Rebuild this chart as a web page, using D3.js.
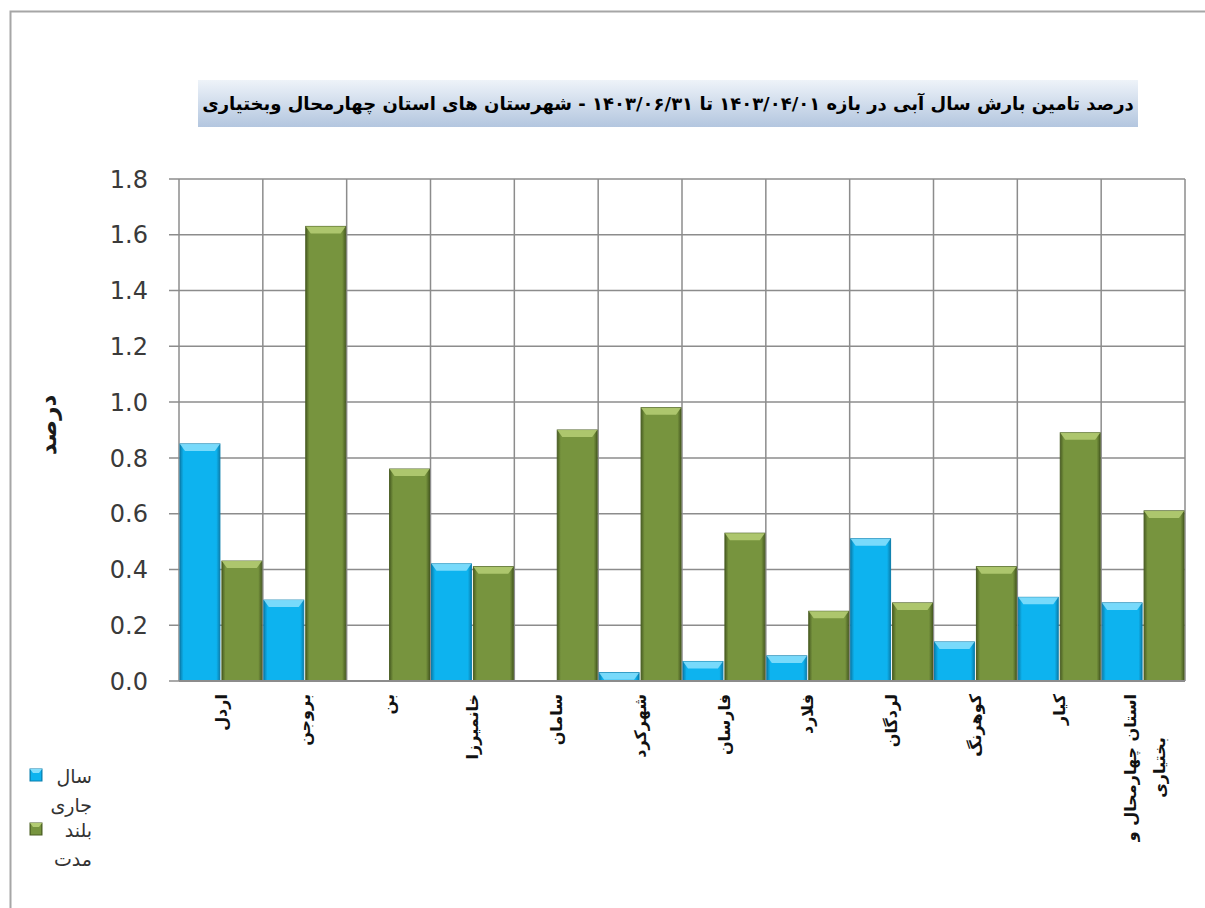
<!DOCTYPE html>
<html>
<head>
<meta charset="utf-8">
<script src="https://cdn.jsdelivr.net/npm/d3@7"></script>
<style>
  body { margin: 0; background: #fff; overflow: hidden; }
  svg { display: block; }
</style>
</head>
<body>
<svg id="chart" width="1205" height="908"></svg>
<script>
// data
var categories = ["اردل", "بروجن", "بن", "خانمیرزا", "سامان", "شهرکرد", "فارسان", "فلارد", "لردگان", "کوهرنگ", "کیار", "استان چهارمحال و بختیاری"];
var currentYear = [0.85, 0.29, 0, 0.42, 0, 0.03, 0.07, 0.09, 0.51, 0.14, 0.30, 0.28];
var longTerm = [0.43, 1.63, 0.76, 0.41, 0.90, 0.98, 0.53, 0.25, 0.28, 0.41, 0.89, 0.61];
var seriesNames = ["سال جاری", "بلند مدت"];
var yTicks = [0, 0.2, 0.4, 0.6, 0.8, 1.0, 1.2, 1.4, 1.6, 1.8];
var title = "درصد تامین بارش سال آبی در بازه ۱۴۰۳/۰۴/۰۱ تا ۱۴۰۳/۰۶/۳۱ - شهرستان های استان چهارمحال وبختیاری";
var yTitle = "درصد";

var persianFont = "'DejaVu Sans', sans-serif";

var svg = d3.select("#chart");

// chart frame
svg.append("rect")
    .attr("x", 10.5).attr("y", 11.5)
    .attr("width", 1400).attr("height", 1000)
    .attr("fill", "none")
    .attr("stroke", "#a6a6a6")
    .attr("stroke-width", 2);

var plotLeft = 179, plotRight = 1185, plotTop = 179, plotBottom = 681;

var x = d3.scaleBand().domain(categories).range([plotLeft, plotRight]).padding(0);
var xs = d3.scaleBand().domain([0, 1]).range([0, x.bandwidth()]).padding(0);
var y = d3.scaleLinear().domain([0, 1.8]).range([plotBottom, plotTop]);

var defs = svg.append("defs");

// title box gradient
var tg = defs.append("linearGradient").attr("id", "titleGrad")
    .attr("x1", 0).attr("y1", 0).attr("x2", 0).attr("y2", 1);
tg.append("stop").attr("offset", "0%").attr("stop-color", "#eef3f9");
tg.append("stop").attr("offset", "100%").attr("stop-color", "#b3c6df");

// bar gradients (horizontal shading for the bevel look)
var colors = [
  { id: "blueGrad", edge: "#0a7fae", main: "#0db3ef", top: "#84defc" },
  { id: "greenGrad", edge: "#4a5e23", main: "#77943e", top: "#b2cb72" }
];
colors.forEach(function (c) {
  var g = defs.append("linearGradient").attr("id", c.id)
      .attr("x1", 0).attr("y1", 0).attr("x2", 1).attr("y2", 0);
  g.append("stop").attr("offset", "0%").attr("stop-color", c.edge);
  g.append("stop").attr("offset", "9%").attr("stop-color", c.main);
  g.append("stop").attr("offset", "91%").attr("stop-color", c.main);
  g.append("stop").attr("offset", "100%").attr("stop-color", c.edge);
});

// title
svg.append("rect")
    .attr("x", 198).attr("y", 80)
    .attr("width", 940).attr("height", 47)
    .attr("fill", "url(#titleGrad)");

svg.append("text")
    .attr("x", 668).attr("y", 110)
    .attr("text-anchor", "middle")
    .attr("direction", "rtl")
    .style("font-family", persianFont)
    .style("font-weight", "bold")
    .style("font-size", "18px")
    .attr("fill", "#000")
    .text(title);

// horizontal grid + tick marks
var grid = svg.append("g");
grid.selectAll("line.h")
    .data(yTicks)
    .enter().append("line")
    .attr("class", "h")
    .attr("x1", plotLeft - 10).attr("x2", plotRight)
    .attr("y1", d => y(d)).attr("y2", d => y(d))
    .attr("stroke", "#8c8c8c")
    .attr("stroke-width", 1.5);

// vertical grid at category boundaries
var bounds = categories.map(d => x(d)).concat([plotRight]);
grid.selectAll("line.v")
    .data(bounds)
    .enter().append("line")
    .attr("class", "v")
    .attr("x1", d => d).attr("x2", d => d)
    .attr("y1", plotTop).attr("y2", plotBottom)
    .attr("stroke", "#8c8c8c")
    .attr("stroke-width", 1.5);

// y tick labels
svg.append("g").selectAll("text")
    .data(yTicks)
    .enter().append("text")
    .attr("x", 148)
    .attr("y", d => y(d))
    .attr("dy", "0.36em")
    .attr("text-anchor", "end")
    .style("font-family", "'DejaVu Sans', sans-serif")
    .style("font-size", "24px")
    .attr("fill", "#3a3a3a")
    .text(d => d3.format(".1f")(d));

// y axis title
svg.append("text")
    .attr("transform", "translate(48,425) rotate(-90)")
    .attr("text-anchor", "middle")
    .attr("dy", "0.35em")
    .style("font-family", persianFont)
    .style("font-weight", "bold")
    .style("font-size", "23px")
    .attr("fill", "#1a1a1a")
    .text(yTitle);

// bars
var rows = categories.map((c, i) => ({ cat: c, values: [currentYear[i], longTerm[i]] }));

var groups = svg.append("g").selectAll("g")
    .data(rows)
    .enter().append("g")
    .attr("transform", d => "translate(" + x(d.cat) + ",0)");

var bars = groups.selectAll("g.bar")
    .data(d => d.values.map((v, k) => ({ v: v, k: k })).filter(b => b.v > 0))
    .enter().append("g")
    .attr("class", "bar");

bars.append("rect")
    .attr("x", b => xs(b.k) + 1)
    .attr("y", b => y(b.v))
    .attr("width", xs.bandwidth() - 2)
    .attr("height", b => y(0) - y(b.v))
    .attr("fill", b => "url(#" + colors[b.k].id + ")")
    .attr("stroke", b => colors[b.k].edge)
    .attr("stroke-width", 1);

// lighter bevel on the top of each bar
bars.append("path")
    .attr("d", function (b) {
      var x0 = xs(b.k) + 1, x1 = x0 + xs.bandwidth() - 2;
      var t = y(b.v), h = Math.min(7, y(0) - y(b.v));
      return "M" + x0 + "," + t + "L" + x1 + "," + t +
             "L" + (x1 - 5) + "," + (t + h) + "L" + (x0 + 5) + "," + (t + h) + "Z";
    })
    .attr("fill", b => colors[b.k].top)
    .attr("opacity", 0.9);

// bottom axis line
svg.append("line")
    .attr("x1", plotLeft).attr("x2", plotRight)
    .attr("y1", plotBottom).attr("y2", plotBottom)
    .attr("stroke", "#8c8c8c")
    .attr("stroke-width", 2);

// category labels, rotated
var labelG = svg.append("g");
function catLabel(txt, tx, ty, anchor) {
  return labelG.append("text")
      .attr("transform", "translate(" + tx + "," + ty + ") rotate(-90)")
      .attr("text-anchor", anchor)
      .attr("dy", "0.35em")
      .style("font-family", persianFont)
      .style("font-weight", "bold")
      .style("font-size", "16px")
      .attr("fill", "#111")
      .text(txt);
}
categories.forEach(function (c) {
  var cx = x(c) + x.bandwidth() / 2;
  var words = c.split(" ");
  if (words.length > 2) {
    var t1 = catLabel(words.slice(0, words.length - 1).join(" "), cx - 13, 694, "end");
    var len = t1.node().getComputedTextLength();
    catLabel(words[words.length - 1], cx + 16, 694 + len / 2, "middle");
  } else {
    catLabel(c, cx, 694, "end");
  }
});

// legend
var legend = svg.append("g");
var legendRows = [
  { name: seriesNames[0], k: 0, top: 769 },
  { name: seriesNames[1], k: 1, top: 823 }
];
legendRows.forEach(function (r) {
  legend.append("rect")
      .attr("x", 30).attr("y", r.top)
      .attr("width", 12).attr("height", 12)
      .attr("fill", "url(#" + colors[r.k].id + ")")
      .attr("stroke", colors[r.k].edge);
  legend.append("path")
      .attr("d", "M30," + r.top + "L42," + r.top + "L39," + (r.top + 4) + "L33," + (r.top + 4) + "Z")
      .attr("fill", colors[r.k].top);
  r.name.split(" ").forEach(function (p, i) {
    legend.append("text")
        .attr("x", 92)
        .attr("y", r.top + 14 + i * 29)
        .attr("text-anchor", "end")
        .style("font-family", persianFont)
        .style("font-size", "19px")
        .attr("fill", "#333")
        .text(p);
  });
});
</script>
</body>
</html>
